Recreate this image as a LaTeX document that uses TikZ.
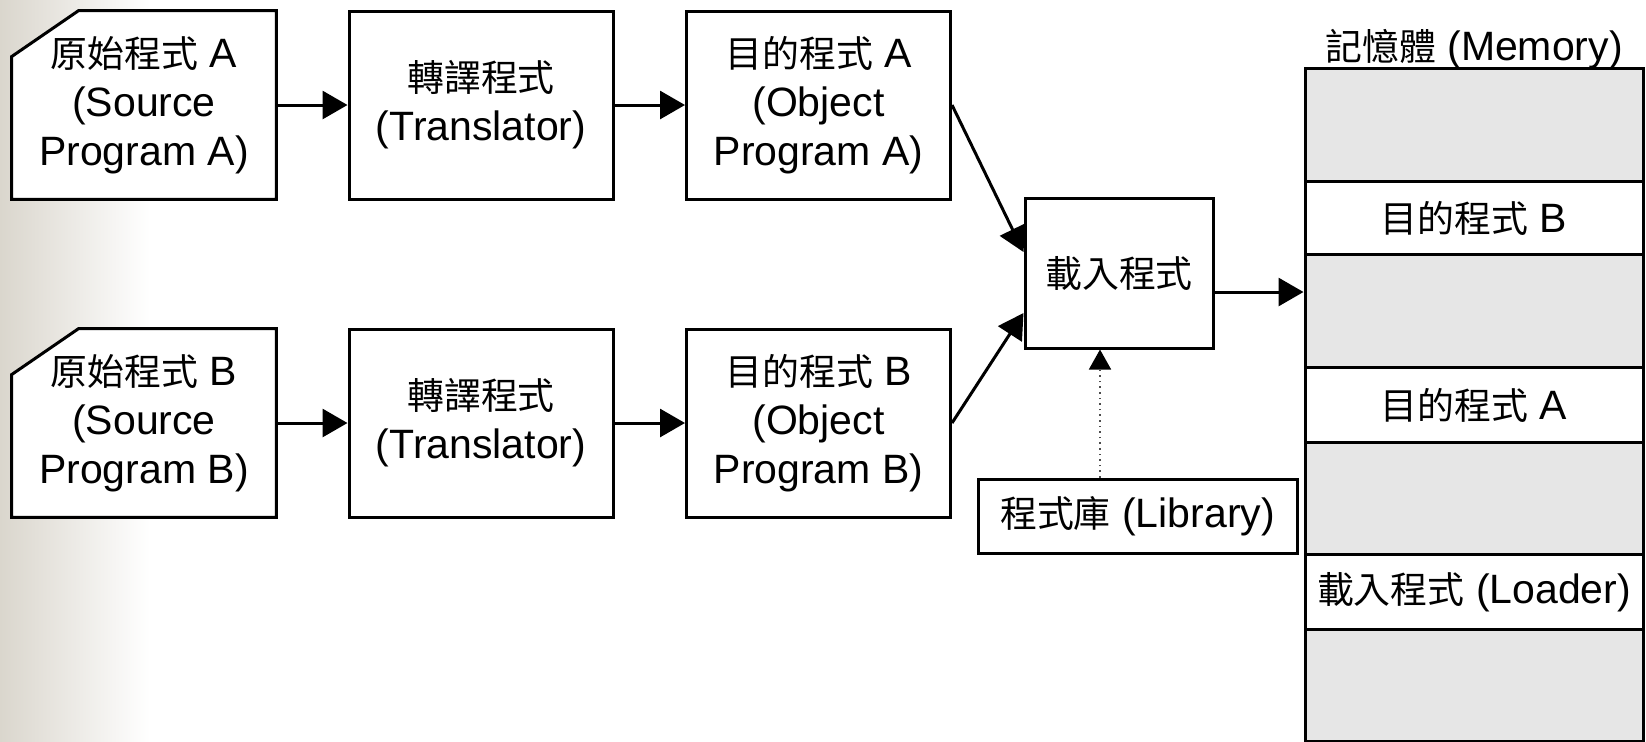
\documentclass[tikz,border=0pt]{standalone}
\usepackage{fontspec}
\setmainfont{Liberation Sans}
\newfontfamily\cjk{Noto Sans CJK TC}[Scale=0.9]
\usetikzlibrary{arrows.meta}
\pgfdeclarelayer{background}
\pgfsetlayers{background,main}
\definecolor{bgL}{RGB}{218,214,205}
\definecolor{memgray}{RGB}{230,230,230}
\begin{document}
\begin{tikzpicture}[x=0.5pt,y=-0.5pt,
  lbl/.style={font=\fontsize{20.5}{24.5}\selectfont, align=center, inner sep=0pt},
  box/.style={lbl, draw, fill=white, line width=1.5pt, minimum width=132pt, minimum height=94pt},
  srcbox/.style={lbl, minimum width=132pt, minimum height=94pt},
  arr/.style={line width=1.5pt, -{Triangle[length=12.5pt,width=14pt]}},
  memrow/.style={lbl, draw, line width=1.5pt, minimum width=169pt, anchor=north},
  cutbox/.style={draw, fill=white, line width=1.5pt, line join=miter}
]
\useasboundingbox (0,0) rectangle (1646,741);
\begin{pgfonlayer}{background}
\shade[left color=bgL, right color=white] (0,0) rectangle (150,741);
\end{pgfonlayer}

% source programs (cut-corner boxes)
\node[srcbox] (srcA) at (144,105) {{\cjk 原始程式} A\\(Source\\Program A)};
\node[srcbox] (srcB) at (144,423) {{\cjk 原始程式} B\\(Source\\Program B)};
\begin{pgfonlayer}{background}
\foreach \n in {srcA,srcB}{
  \draw[cutbox] ([xshift=33.5pt]\n.north west) -- (\n.north east) -- (\n.south east)
     -- (\n.south west) -- ([yshift=-23pt]\n.north west) -- cycle;
}
\end{pgfonlayer}

% translators and object programs
\node[box] (trA) at (481,105) {{\cjk 轉譯程式}\\(Translator)};
\node[box] (trB) at (481,423) {{\cjk 轉譯程式}\\(Translator)};
\node[box] (objA) at (818.5,105) {{\cjk 目的程式} A\\(Object\\Program A)};
\node[box] (objB) at (818.5,423) {{\cjk 目的程式} B\\(Object\\Program B)};

% loader and library
\node[box, minimum width=94pt, minimum height=75pt] (loader) at (1119,273) {{\cjk 載入程式}};
\node[box, minimum width=159.5pt, minimum height=37pt] (library) at (1137.5,516) {{\cjk 程式庫} (Library)};

% memory
\node[lbl, anchor=base] (memlbl) at (1474,60) {{\cjk 記憶體} (Memory)};
\node[memrow, fill=memgray, minimum height=56.5pt] (m1) at (1474,67) {};
\node[memrow, fill=white, minimum height=36.5pt] (m2) at (1474,180) {{\cjk 目的程式} B};
\node[memrow, fill=memgray, minimum height=56.5pt] (m3) at (1474,253) {};
\node[memrow, fill=white, minimum height=37.5pt] (m4) at (1474,366) {{\cjk 目的程式} A};
\node[memrow, fill=memgray, minimum height=56pt] (m5) at (1474,441) {};
\node[memrow, fill=white, minimum height=37.5pt] (m6) at (1474,553) {{\cjk 載入程式} (Loader)};
\node[memrow, fill=memgray, minimum height=56pt] (m7) at (1474,628) {};

% connectors
\draw[arr] (srcA.east) -- (trA.west);
\draw[arr] (trA.east) -- (objA.west);
\draw[arr] (srcB.east) -- (trB.west);
\draw[arr] (trB.east) -- (objB.west);
\draw[arr] (objA.east) -- ([yshift=10.5pt]loader.west);
\draw[arr] (objB.east) -- ([yshift=-20pt]loader.west);
\draw[arr] ([yshift=-9.5pt]loader.east) -- ([yshift=-9.5pt]loader.east -| m3.west);
\draw[dotted, line width=0.8pt, draw=black!70, -{Triangle[length=10pt,width=11pt,fill=black,color=black]}]
  ([xshift=-18.75pt]library.north) -- ([xshift=-18.75pt]library.north |- loader.south);
\end{tikzpicture}
\end{document}
